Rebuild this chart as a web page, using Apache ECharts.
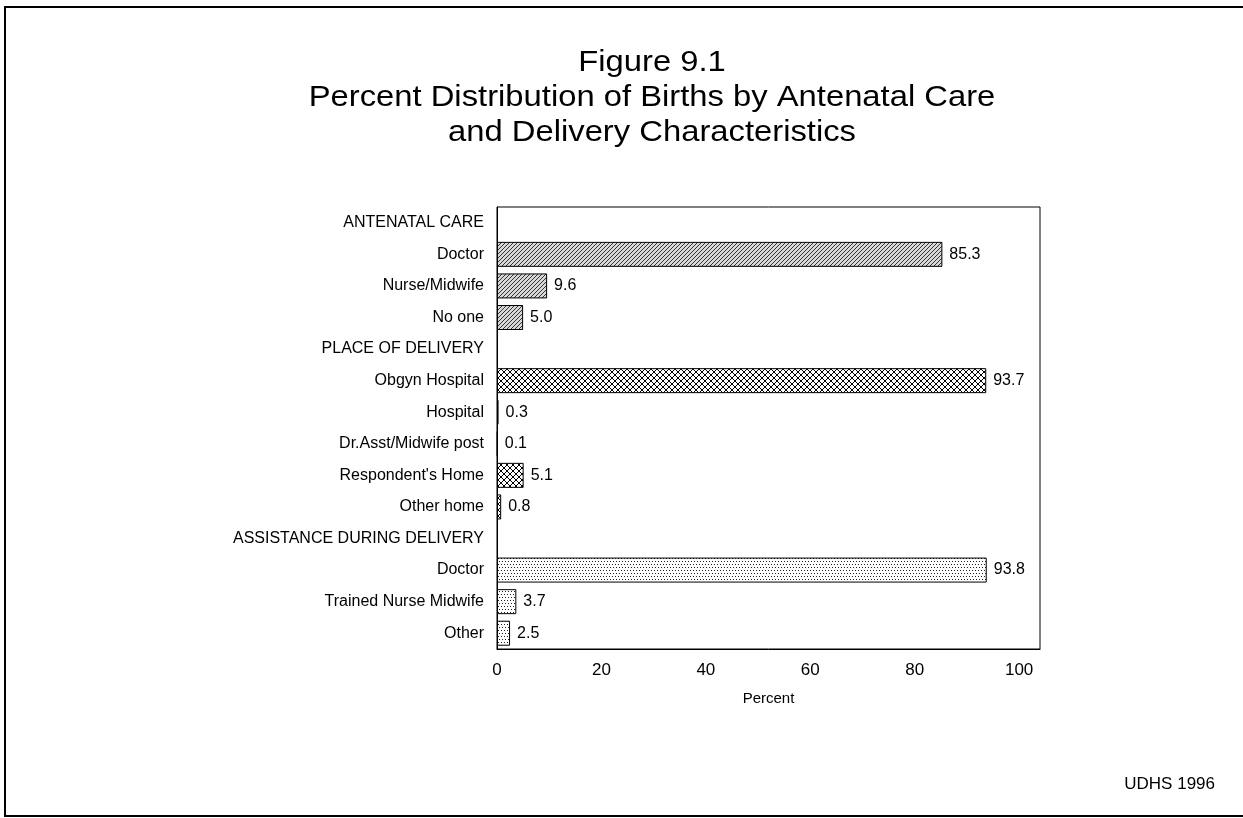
<!DOCTYPE html>
<html>
<head>
<meta charset="utf-8">
<script src="https://cdn.jsdelivr.net/npm/echarts@6/dist/echarts.min.js"></script>
<style>
html,body{margin:0;padding:0;background:#fff;}
#c{width:1243px;height:818px;}
</style>
</head>
<body>
<div id="c"></div>
<script>
// ---- data ----
var titleLines = ['Figure 9.1', 'Percent Distribution of Births by Antenatal Care', 'and Delivery Characteristics'];
var categories = ['ANTENATAL CARE', 'Doctor', 'Nurse/Midwife', 'No one',
  'PLACE OF DELIVERY', 'Obgyn Hospital', 'Hospital', 'Dr.Asst/Midwife post', "Respondent's Home", 'Other home',
  'ASSISTANCE DURING DELIVERY', 'Doctor', 'Trained Nurse Midwife', 'Other'];
var antenatalCare   = [null, 85.3, 9.6, 5.0, null, null, null, null, null, null, null, null, null, null];
var placeOfDelivery = [null, null, null, null, null, 93.7, 0.3, 0.1, 5.1, 0.8, null, null, null, null];
var assistance      = [null, null, null, null, null, null, null, null, null, null, null, 93.8, 3.7, 2.5];
var xTicks = [0, 20, 40, 60, 80, 100];
var axisName = 'Percent';
var source = 'UDHS 1996';

// ---- patterns ----
function makePattern(kind) {
  var c = document.createElement('canvas');
  var s = kind === 'hatch' ? 4 : (kind === 'cross' ? 6 : 6);
  c.width = s; c.height = s;
  var g = c.getContext('2d');
  g.fillStyle = '#fff'; g.fillRect(0, 0, s, s);
  g.strokeStyle = '#000'; g.fillStyle = '#000';
  if (kind === 'hatch') {
    g.fillStyle = '#d8d8d8'; g.fillRect(0, 0, s, s);
    g.strokeStyle = '#333';
    g.lineWidth = 1;
    g.beginPath();
    g.moveTo(-1, s + 1); g.lineTo(s + 1, -1);
    g.moveTo(-1, 1); g.lineTo(1, -1);
    g.moveTo(s - 1, s + 1); g.lineTo(s + 1, s - 1);
    g.stroke();
  } else if (kind === 'cross') {
    g.lineWidth = 1;
    g.beginPath();
    g.moveTo(0, 0); g.lineTo(s, s);
    g.moveTo(0, s); g.lineTo(s, 0);
    g.stroke();
  } else {
    g.fillStyle = '#222';
    g.fillRect(0, 0, 1, 1);
    g.fillRect(3, 0, 1, 1);
    g.fillRect(1, 3, 1, 1);
    g.fillRect(4, 3, 1, 1);
  }
  return { image: c, repeat: 'repeat' };
}

var font = 'Liberation Sans, Arial, sans-serif';
var chart = echarts.init(document.getElementById('c'), null, { renderer: 'canvas' });

function barSeries(name, values, kind) {
  return {
    type: 'bar', name: name, data: values, barWidth: 25, barGap: '-100%',
    itemStyle: { color: makePattern(kind), borderColor: '#000', borderWidth: 1 },
    label: {
      show: true, position: 'right', distance: 7, color: '#000',
      fontFamily: font, fontSize: 16,
      formatter: function (p) { return p.value == null ? '' : p.value.toFixed(1); }
    },
    silent: true, animation: false
  };
}

chart.setOption({
  animation: false,
  backgroundColor: '#fff',
  grid: { left: 497, right: 203, top: 207, bottom: 169, show: true, borderColor: '#000', borderWidth: 1, backgroundColor: 'transparent' },
  xAxis: {
    type: 'value', min: 0, max: 104, interval: 20,
    name: axisName, nameLocation: 'middle', nameGap: 42,
    nameTextStyle: { fontFamily: font, fontSize: 15, color: '#000' },
    axisLine: { show: true, lineStyle: { color: '#000', width: 1 } },
    axisTick: { show: false },
    splitLine: { show: false },
    axisLabel: {
      fontFamily: font, fontSize: 17, color: '#000', margin: 13,
      formatter: function (v) { return xTicks.indexOf(v) >= 0 ? String(v) : ''; }
    }
  },
  yAxis: {
    type: 'category', data: categories, inverse: true,
    axisLine: { show: true, lineStyle: { color: '#000' } },
    axisTick: { show: false },
    axisLabel: { fontFamily: font, fontSize: 16, color: '#000', margin: 13 }
  },
  series: [
    barSeries('Antenatal care', antenatalCare, 'hatch'),
    barSeries('Place of delivery', placeOfDelivery, 'cross'),
    barSeries('Assistance during delivery', assistance, 'dots')
  ],
  graphic: [
    { type: 'rect', shape: { x: 5, y: 7, width: 1260, height: 809 }, style: { fill: 'none', stroke: '#000', lineWidth: 2 }, silent: true },
    { type: 'text', x: 652, y: 45, scaleX: 1.13, silent: true,
      style: { text: titleLines.join('\n'), fontFamily: font, fontSize: 29, lineHeight: 35, fill: '#000', align: 'center', verticalAlign: 'top' } },
    { type: 'text', right: 28, top: 776, silent: true, style: { text: source, fontFamily: font, fontSize: 17, fill: '#000' } }
  ]
});
</script>
</body>
</html>
